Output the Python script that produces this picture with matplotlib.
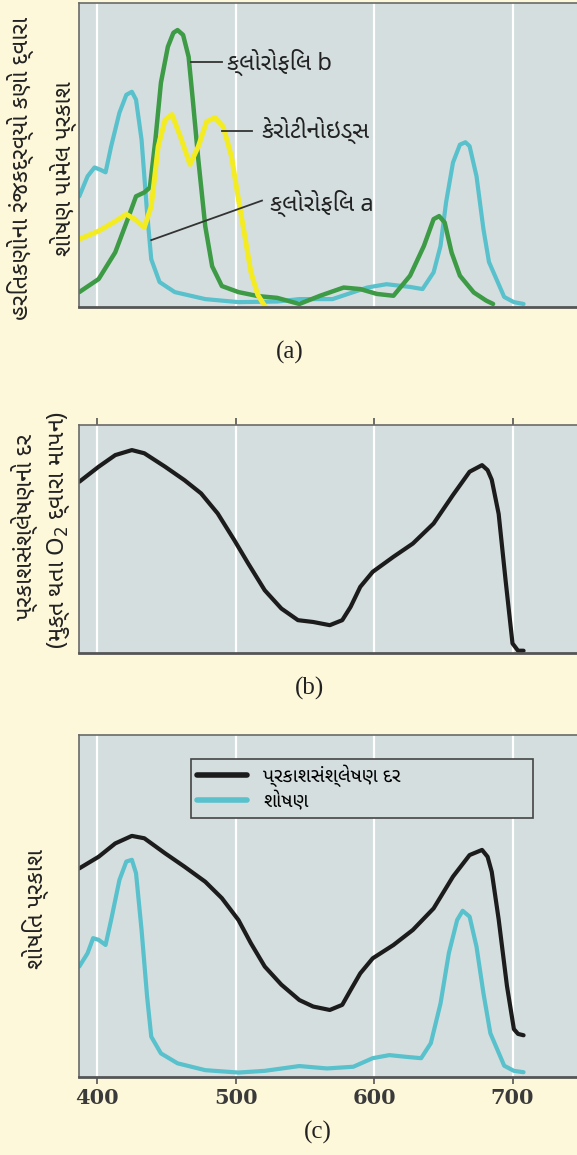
import matplotlib.pyplot as plt

# wavelengths (nm) and readings, arbitrary units 0-100

# (a) absorption spectra of the pigments
chl_a_nm = [387, 393, 398, 402, 406, 410, 416, 421, 425, 428, 432, 436, 439, 445, 456, 478,
            502, 530, 546, 570, 595, 609, 626, 635, 643, 648, 652, 657, 662, 666, 669, 674,
            679, 683, 694, 701, 708]
chl_a_val = [36.4, 43.0, 45.9, 45.2, 44.3, 52.8, 63.9, 69.8, 70.8, 68.2, 55.0, 31.0, 15.7,
             8.2, 4.9, 2.6, 1.6, 1.8, 2.6, 2.6, 6.4, 7.5, 6.6, 5.9, 11.4, 20.1, 34.4, 47.5,
             53.4, 54.2, 52.9, 43.0, 25.6, 14.8, 3.3, 1.6, 1.0]

chl_b_nm = [387, 401, 413, 422, 428, 434, 438, 442, 446, 451, 455, 458, 462, 466, 469, 473,
            478, 483, 490, 502, 516, 530, 546, 561, 578, 590, 602, 614, 626, 636, 643, 647,
            651, 656, 662, 672, 681, 686]
chl_b_val = [4.9, 9.2, 18.0, 28.9, 36.4, 37.7, 39.3, 55.0, 73.8, 85.6, 90.2, 91.1, 89.5,
             82.3, 68.2, 48.5, 26.6, 13.4, 6.9, 4.9, 3.6, 3.0, 1.0, 3.7, 6.4, 5.9, 4.3, 3.7,
             10.3, 20.1, 28.9, 29.9, 27.8, 17.9, 10.3, 4.8, 2.1, 1.0]

carot_nm = [387, 401, 413, 421, 427, 434, 439, 444, 449, 454, 460, 467, 473, 479, 485, 491,
            497, 502, 507, 511, 516, 521]
carot_val = [22.3, 25.0, 28.2, 30.5, 28.9, 26.2, 33.1, 52.8, 61.6, 63.3, 56.1, 46.9, 52.8,
             61.0, 62.3, 59.3, 49.5, 35.4, 22.3, 11.5, 4.0, 0.3]

# (b) photosynthesis rate (O2 released)
rate_nm = [387, 401, 413, 425, 434, 449, 463, 475, 487, 499, 509, 521, 533, 545, 556, 568,
           577, 583, 590, 599, 614, 628, 643, 657, 669, 678, 682, 685, 690, 695, 700, 704, 708]
rate_val = [75.1, 81.7, 86.8, 89.0, 87.6, 81.7, 75.8, 70.0, 61.2, 49.5, 39.3, 27.5, 19.5,
            14.4, 13.6, 12.2, 14.4, 20.2, 29.0, 35.6, 42.2, 48.0, 56.8, 69.3, 79.5, 82.4,
            80.2, 76.0, 61.0, 31.9, 4.2, 1.0, 1.0]

# (c) action spectrum vs absorption
rate_c_nm = [387, 401, 413, 425, 434, 449, 463, 478, 490, 502, 511, 521, 533, 546, 556, 568,
             577, 583, 590, 599, 614, 628, 643, 657, 669, 678, 682, 685, 690, 696, 701, 704, 708]
rate_c_val = [61.0, 64.4, 68.3, 70.5, 69.8, 65.4, 61.5, 57.1, 52.3, 45.9, 39.1, 32.3, 27.0,
              22.5, 20.6, 19.6, 21.1, 25.4, 30.3, 34.7, 38.6, 43.0, 49.3, 58.6, 64.9, 66.4,
              64.4, 60.0, 46.1, 26.6, 14.0, 12.6, 12.2]
abs_c_nm = [387, 393, 397, 401, 406, 410, 416, 421, 425, 428, 432, 436, 439, 446, 458, 478,
            502, 521, 546, 566, 585, 599, 611, 623, 634, 641, 648, 654, 660, 664, 669, 674,
            679, 684, 694, 701, 708]
abs_c_val = [32.3, 36.2, 40.6, 40.1, 38.6, 45.9, 57.6, 63.0, 63.5, 59.6, 43.0, 23.5, 11.8,
             6.9, 4.0, 2.0, 1.3, 1.8, 3.2, 2.5, 3.0, 5.5, 6.4, 5.9, 5.5, 9.9, 21.5, 36.2,
             45.9, 48.6, 46.9, 38.1, 24.5, 12.8, 3.3, 1.8, 1.4]

ticks = [400, 500, 600, 700]

bg = '#FDF8DA'
face = '#D4DEDF'
cyan = '#58C1CC'
green = '#3D9A45'
yellow = '#F4EC22'
black = '#1c1c1c'
txt = '#222222'

plt.rcParams['font.family'] = ['Noto Sans Gujarati', 'Noto Sans', 'DejaVu Sans']

fig = plt.figure(figsize=(5.77, 11.55), dpi=100, facecolor=bg)
left, width = 79 / 577, 1 - 79 / 577


def setup(ax):
    ax.set_facecolor(face)
    ax.set_xlim(386.8, 746.6)
    ax.set_ylim(0, 100)
    ax.set_xticks(ticks)
    ax.grid(axis='x', color='white', lw=1.6)
    ax.set_axisbelow(True)
    ax.set_yticks([])
    ax.spines['right'].set_visible(False)
    for s in ['left', 'top']:
        ax.spines[s].set_color('#6a6a6a')
        ax.spines[s].set_linewidth(1.2)
    ax.spines['bottom'].set_linewidth(2)
    ax.spines['bottom'].set_color('#555555')


kw = dict(solid_joinstyle='round', solid_capstyle='round')

# (a)
ax1 = fig.add_axes([left, 1 - 307 / 1155, width, 304 / 1155])
setup(ax1)
ax1.tick_params(axis='x', length=0, labelbottom=False)
ax1.plot(chl_a_nm, chl_a_val, color=cyan, lw=3, **kw)
ax1.plot(chl_b_nm, chl_b_val, color=green, lw=3.2, **kw)
ax1.plot(carot_nm, carot_val, color=yellow, lw=3.6, **kw)
ax1.plot([468, 490], [80.5, 80.5], color='#333333', lw=1.3)
ax1.text(494, 80.5, 'ક્લોરોફિલ b', fontsize=17, va='center', color=txt)
ax1.plot([490, 512], [58, 58], color='#333333', lw=1.3)
ax1.text(519, 58, 'કેરોટીનોઇડ્સ', fontsize=17, va='center', color=txt)
ax1.plot([439, 519], [22, 35], color='#333333', lw=1.3)
ax1.text(525, 34, 'ક્લોરોફિલ a', fontsize=17, va='center', color=txt)
fig.text(20 / 577, 1 - 168 / 1155, 'હરિતકણોના રંજકદ્રવ્યો કણો દ્વારા', rotation=90,
         fontsize=17, ha='center', va='center', color=txt)
fig.text(63 / 577, 1 - 169 / 1155, 'શોષણ પામેલ પ્રકાશ', rotation=90, fontsize=17,
         ha='center', va='center', color=txt)
fig.text(290 / 577, 1 - 352 / 1155, '(a)', fontsize=18, ha='center', va='center',
         family='Liberation Serif', color=txt)

# (b)
ax2 = fig.add_axes([left, 1 - 653 / 1155, width, 228 / 1155])
setup(ax2)
ax2.xaxis.set_ticks_position('top')
ax2.tick_params(axis='x', direction='out', length=5, width=1.2, color='#555555',
                labeltop=False)
ax2.plot(rate_nm, rate_val, color=black, lw=3, **kw)
fig.text(24 / 577, 1 - 527 / 1155, 'પ્રકાશસંશ્લેષણનો દર', rotation=90, fontsize=17,
         ha='center', va='center', color=txt)
fig.text(59 / 577, 1 - 530 / 1155, '(મુક્ત થતા O$_2$ દ્વારા માપન)', rotation=90,
         fontsize=17, ha='center', va='center', color=txt)
fig.text(309 / 577, 1 - 688 / 1155, '(b)', fontsize=18, ha='center', va='center',
         family='Liberation Serif', color=txt)

# (c)
ax3 = fig.add_axes([left, 1 - 1077 / 1155, width, 342 / 1155])
setup(ax3)
ax3.tick_params(axis='x', direction='out', length=5, width=1.2, color='#555555', pad=3)
for lab in ax3.get_xticklabels():
    lab.set_family('DejaVu Serif')
    lab.set_fontsize(15)
    lab.set_fontweight('bold')
    lab.set_color('#3a3a3a')
ax3.plot(rate_c_nm, rate_c_val, color=black, lw=3, label='પ્રકાશસંશ્લેષણ દર', **kw)
ax3.plot(abs_c_nm, abs_c_val, color=cyan, lw=3, label='શોષણ', **kw)
leg = ax3.legend(loc='upper left', bbox_to_anchor=(0.225, 0.93, 0.687, 0.0), mode='expand',
                 fontsize=14, fancybox=False, framealpha=1, facecolor=face,
                 edgecolor='#444444', handlelength=2.6, borderpad=0.3, labelspacing=0.25,
                 borderaxespad=0)
leg.get_frame().set_linewidth(1.2)
for ln in leg.get_lines():
    ln.set_linewidth(4)
fig.text(35 / 577, 1 - 909 / 1155, 'શોષિત પ્રકાશ', rotation=90, fontsize=17,
         ha='center', va='center', color=txt)
fig.text(318 / 577, 1 - 1132 / 1155, '(c)', fontsize=18, ha='center', va='center',
         family='Liberation Serif', color=txt)

fig.savefig('out.png', dpi=100, facecolor=bg)
